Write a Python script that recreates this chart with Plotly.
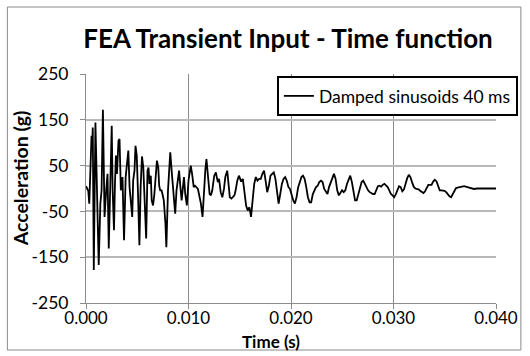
import plotly.graph_objects as go

title_text = "FEA Transient Input - Time function"
series_name = "Damped sinusoids 40 ms"
x_title = "Time (s)"
y_title = "Acceleration (g)"

time_ms = [
    0.00, 0.10, 0.22, 0.32, 0.44, 0.54, 0.60, 0.66, 0.76, 0.92,
    1.08, 1.24, 1.40, 1.52, 1.65, 1.75, 1.81, 1.97, 2.10, 2.22,
    2.38, 2.51, 2.60, 2.73, 2.83, 2.92, 3.02, 3.17, 3.27, 3.40,
    3.56, 3.71, 3.87, 3.97, 4.13, 4.25, 4.41, 4.51, 4.60, 4.73,
    4.83, 4.95, 5.08, 5.21, 5.33, 5.46, 5.59, 5.71, 5.87, 6.00,
    6.10, 6.19, 6.32, 6.41, 6.54, 6.67, 6.83, 6.92, 7.05, 7.14,
    7.24, 7.37, 7.46, 7.59, 7.75, 7.84, 8.00, 8.10, 8.22, 8.38,
    8.51, 8.70, 8.83, 8.95, 9.08, 9.21, 9.33, 9.46, 9.56, 9.68,
    9.84, 10.00, 10.13, 10.22, 10.35, 10.51, 10.64, 10.79, 10.92, 11.02,
    11.21, 11.37, 11.49, 11.65, 11.75, 11.90, 12.06, 12.19, 12.32, 12.51,
    12.67, 12.86, 12.98, 13.14, 13.30, 13.46, 13.59, 13.78, 13.90, 14.03,
    14.19, 14.35, 14.48, 14.60, 14.76, 14.92, 15.14, 15.30, 15.46, 15.62,
    15.78, 15.94, 16.10, 16.25, 16.41, 16.57, 16.73, 16.89, 17.05, 17.21,
    17.37, 17.52, 17.68, 17.84, 18.00, 18.16, 18.32, 18.48, 18.63, 18.79,
    18.95, 19.11, 19.27, 19.43, 19.59, 19.75, 19.90, 20.06, 20.22, 20.38,
    20.54, 20.70, 20.86, 21.02, 21.17, 21.33, 21.49, 21.65, 21.81, 21.97,
    22.13, 22.29, 22.44, 22.60, 22.76, 22.92, 23.08, 23.24, 23.40, 23.56,
    23.71, 23.87, 24.03, 24.19, 24.35, 24.51, 24.67, 24.83, 24.98, 25.14,
    25.30, 25.46, 25.62, 25.78, 25.94, 26.10, 26.25, 26.41, 26.57, 26.73,
    26.89, 27.05, 27.21, 27.37, 27.52, 27.68, 28.00, 28.16, 28.32, 28.48,
    28.63, 28.79, 28.95, 29.11, 29.27, 29.43, 29.59, 29.75, 29.90, 30.06,
    30.22, 30.38, 30.54, 30.70, 30.86, 31.02, 31.17, 31.33, 31.49, 31.65,
    31.81, 31.97, 32.13, 32.29, 32.44, 32.60, 32.76, 32.92, 33.08, 33.24,
    33.40, 33.56, 33.71, 33.87, 34.03, 34.19, 34.35, 34.51, 34.67, 34.98,
    35.14, 35.30, 35.46, 35.62, 35.78, 35.94, 36.10, 36.25, 36.57, 36.89,
    37.21, 37.52, 37.84, 38.16, 38.48, 38.80, 39.27, 39.60, 40.00,
]

accel_g = [
    5, 0, -5, -33, 75, 115, 90, 133, -178, 144,
    -12, -167, -33, -4, 172, -4, -62, -4, 32, -131,
    3, 137, -4, -91, 14, 72, 32, 104, 108, -4,
    25, -113, 25, 46, 83, 3, -33, -62, 17, 39,
    93, 72, -15, -124, 3, 70, 46, -19, -109, 39,
    46, 10, 28, -26, -37, -12, 46, 61, 46, 6,
    -4, -4, -12, -26, -77, -128, -4, 46, 79, 32,
    -4, -55, -4, 21, 39, 3, -26, 3, 25, -12,
    -37, 17, 46, 50, 32, 3, 6, 3, -1, -12,
    -33, -62, -4, 43, 64, 21, -12, -15, -4, 28,
    35, 14, 21, -8, -19, -1, 25, 39, 10, -19,
    -22, -19, -15, -4, 17, 28, 15, 21, -4, -37,
    -48, -41, -62, -26, 10, 25, 17, 21, 21, 32,
    39, 17, -8, 6, 28, 32, 35, 21, -4, -33,
    -12, 10, 21, 25, 17, 3, -1, -15, -26, -33,
    -19, 3, 17, 25, 28, 21, 3, -19, -30, -30,
    -12, -4, 3, 6, 14, 17, 14, -1, -8, -12,
    3, 14, 25, 32, 21, -4, -15, -8, -4, -8,
    -4, 10, 21, 28, 14, -12, -26, -26, -12, 3,
    14, 17, 10, 0, -4, -8, -12, -12, -4, 5,
    6, 4, 8, 10, 7, 3, -4, -12, -15, -19,
    -13, -4, 5, 3, -6, -2, 12, 22, 30, 25,
    14, 4, 0, -1, -2, -5, -8, -10, -6, 0,
    8, 8, 8, 15, 19, 16, 5, -4, -4, -5,
    -8, -13, -17, -19, -12, -3, 1, 2, 3, 5,
    3, 1, -1, 0, 0, -1, 0, 0, 0,
]

x_tick_vals = [0.0, 0.01, 0.02, 0.03, 0.04]
x_tick_text = ["0.000", "0.010", "0.020", "0.030", "0.040"]
y_tick_vals = [250, 150, 50, -50, -150, -250]
y_tick_text = ["250", "150", "50", "-50", "-150", "-250"]

W, H = 530, 356
L, R, T, B = 86, 32, 74, 53
pw = W - L - R
ph = H - T - B


def px_x(p):
    return (p - L) / pw


def px_y(p):
    return (H - B - p) / ph


FONT = "Lato"

fig = go.Figure()
fig.add_trace(go.Scatter(
    x=[t / 1000.0 for t in time_ms],
    y=accel_g,
    mode="lines",
    line=dict(color="black", width=1.8),
    name=series_name,
    showlegend=True,
))

fig.update_layout(
    width=W, height=H,
    margin=dict(l=L, r=R, t=T, b=B),
    paper_bgcolor="white",
    plot_bgcolor="white",
    font=dict(family=FONT, size=15, color="black"),
    showlegend=True,
    legend=dict(
        x=px_x(520), y=px_y(76), xanchor="right", yanchor="top",
        bordercolor="black", borderwidth=2, bgcolor="white",
        font=dict(family=FONT, size=17.5, color="black"),
        itemwidth=30,
    ),
    title=dict(
        text="<b>" + title_text + "</b>",
        x=288 / W, xanchor="center", xref="container",
        y=1 - 39 / H, yanchor="middle", yref="container",
        font=dict(family=FONT, size=26, color="black"),
    ),
    xaxis=dict(
        range=[0, 0.04],
        tickmode="array", tickvals=x_tick_vals, ticktext=x_tick_text,
        showgrid=True, gridcolor="#8c8c8c", gridwidth=1,
        showline=True, linecolor="#8c8c8c", linewidth=1,
        ticks="outside", ticklen=5, tickcolor="#8c8c8c",
        ticklabelstandoff=-5,
        zeroline=False,
        tickfont=dict(family=FONT, size=17, color="black"),
    ),
    yaxis=dict(
        range=[-250, 250],
        tickmode="array", tickvals=y_tick_vals, ticktext=y_tick_text,
        showgrid=True, gridcolor="#b8b8b8", gridwidth=1.5,
        showline=True, linecolor="#8c8c8c", linewidth=1,
        ticks="outside", ticklen=5, tickcolor="#8c8c8c",
        ticklabelstandoff=8,
        zeroline=False,
        tickfont=dict(family=FONT, size=17.5, color="black"),
    ),
    annotations=[
        dict(text="<b>" + x_title + "</b>", xref="paper", yref="paper",
             x=px_x(272), y=px_y(341), xanchor="center", yanchor="middle",
             showarrow=False, font=dict(family=FONT, size=17, color="black")),
        dict(text="<b>" + y_title + "</b>", xref="paper", yref="paper",
             x=px_x(20), y=px_y(178), xanchor="center", yanchor="middle",
             textangle=-90,
             showarrow=False, font=dict(family=FONT, size=19.5, color="black")),
    ],
    shapes=[
        dict(type="rect", xref="paper", yref="paper",
             x0=px_x(7), x1=px_x(523), y0=px_y(350), y1=px_y(7),
             line=dict(color="#8a8a8a", width=1), layer="below"),
    ],
)

fig.write_html("out.html", config={"displayModeBar": False},
               post_script="document.body.style.margin='0';")
